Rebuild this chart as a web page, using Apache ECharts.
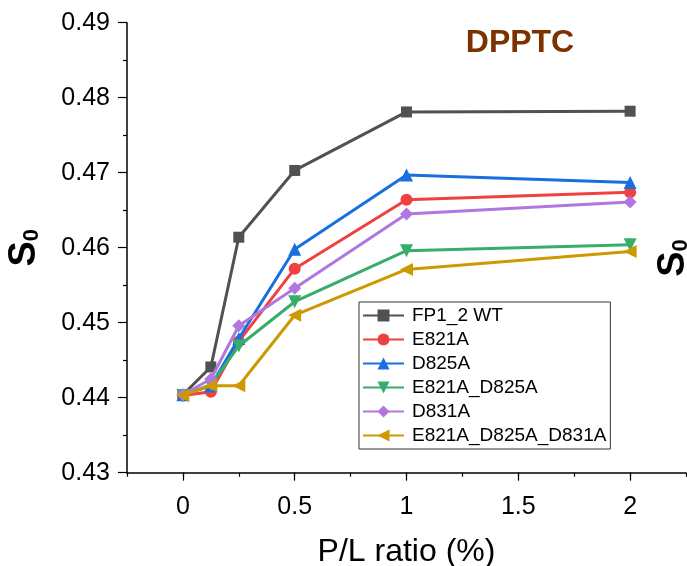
<!DOCTYPE html>
<html>
<head>
<meta charset="utf-8">
<script src="https://cdn.jsdelivr.net/npm/echarts@6/dist/echarts.min.js"></script>
<style>html,body{margin:0;padding:0;background:#fff;}#c{width:687px;height:566px;}</style>
</head>
<body>
<div id="c"></div>
<script>
const xValues = [0, 0.125, 0.25, 0.5, 1, 2];
const seriesNames = ['FP1_2 WT', 'E821A', 'D825A', 'E821A_D825A', 'D831A', 'E821A_D825A_D831A'];
const wt = [0.4404, 0.4441, 0.4614, 0.4703, 0.4781, 0.4782];
const e821a = [0.4403, 0.4408, 0.4475, 0.4572, 0.4664, 0.4674];
const d825a = [0.4404, 0.4416, 0.4479, 0.4598, 0.4697, 0.4687];
const e821aD825a = [0.4403, 0.4417, 0.4469, 0.4528, 0.4596, 0.4604];
const d831a = [0.4404, 0.4425, 0.4496, 0.4546, 0.4645, 0.4661];
const triple = [0.4403, 0.4416, 0.4416, 0.4510, 0.4571, 0.4595];
const xTickCats = ['-0.25', '0', '0.25', '0.5', '0.75', '1', '1.25', '1.5', '1.75', '2', '2.25'];
const yTicks = [0.43, 0.44, 0.45, 0.46, 0.47, 0.48, 0.49];

const colors = ['#515151', '#F14040', '#1A6FDF', '#37AD6B', '#B177DE', '#CC9900'];
const symbols = ['rect', 'circle', 'triangle', 'triangle', 'diamond', 'triangle'];
const rotates = [0, 0, 0, 180, 0, 90];
const sizes = [11, 12, 13, 13, 13, 13];
const allData = [wt, e821a, d825a, e821aD825a, d831a, triple];
const FONT = '"Liberation Sans", Arial, sans-serif';

const chart = echarts.init(document.getElementById('c'));
chart.setOption({
  animation: false,
  backgroundColor: '#fff',
  grid: { left: 127, right: 1, top: 22.7, bottom: 93.3, containLabel: false, outerBoundsMode: 'none' },
  legend: {
    orient: 'vertical', left: 359, top: 302,
    backgroundColor: '#fff',
    borderColor: '#333', borderWidth: 1, borderRadius: 0,
    padding: [4, 4, 4, 3],
    itemWidth: 41, itemHeight: 15, itemGap: 5,
    textStyle: { fontFamily: FONT, fontSize: 19, color: '#000', padding: [0, 0, 0, 3] },
    data: seriesNames
  },
  xAxis: [{
    type: 'value', min: -0.25, max: 2.25, interval: 0.25,
    axisLine: { show: true, onZero: false, lineStyle: { color: '#000', width: 1.5 } },
    axisTick: { show: true, inside: false, length: 4, lineStyle: { color: '#000', width: 1.2 } },
    axisLabel: { show: false },
    splitLine: { show: false },
    name: 'P/L ratio (%)', nameLocation: 'middle', nameGap: 63,
    nameTextStyle: { fontFamily: FONT, fontSize: 32, color: '#000' }
  }, {
    type: 'category', position: 'bottom', boundaryGap: false,
    data: xTickCats,
    axisLine: { show: false, onZero: false },
    axisTick: { show: true, length: 8, interval: function (i) { return i % 2 === 1; }, lineStyle: { color: '#000', width: 1.2 } },
    axisLabel: {
      show: true, margin: 22, interval: function (i) { return i % 2 === 1; },
      fontFamily: FONT, fontSize: 25, color: '#000'
    },
    splitLine: { show: false }
  }],
  yAxis: {
    type: 'value', min: yTicks[0], max: yTicks[yTicks.length - 1], interval: 0.01,
    axisLine: { show: true, onZero: false, lineStyle: { color: '#000', width: 1.5 } },
    axisTick: { show: true, length: 9, lineStyle: { color: '#000', width: 1.2 } },
    minorTick: { show: true, splitNumber: 2, length: 4, lineStyle: { color: '#000', width: 1.2 } },
    axisLabel: {
      margin: 17, fontFamily: FONT, fontSize: 25, color: '#000',
      formatter: function (v) { return v.toFixed(2); }
    },
    splitLine: { show: false },
    name: '{s|S}{sub|0}', nameLocation: 'middle', nameGap: 83,
    nameTextStyle: {
      rich: {
        s: { fontFamily: FONT, fontSize: 38, fontWeight: 'bold', color: '#000' },
        sub: { fontFamily: FONT, fontSize: 22, fontWeight: 'bold', color: '#000', padding: [14, 0, 0, 0] }
      }
    }
  },
  graphic: [{
    type: 'text', x: 520, y: 43,
    style: {
      text: 'DPPTC', align: 'center', verticalAlign: 'middle',
      fontFamily: FONT, fontSize: 32, fontWeight: 'bold', fill: '#7B3100'
    }
  }, {
    type: 'text', x: 674, y: 258, rotation: Math.PI / 2,
    style: {
      text: '{s|S}{sub|0}', align: 'center', verticalAlign: 'middle',
      rich: {
        s: { fontFamily: FONT, fontSize: 38, fontWeight: 'bold', fill: '#000' },
        sub: { fontFamily: FONT, fontSize: 22, fontWeight: 'bold', fill: '#000', padding: [14, 0, 0, 0] }
      }
    }
  }],
  series: seriesNames.map(function (name, k) {
    return {
      name: name, type: 'line', xAxisIndex: 0,
      data: xValues.map(function (x, i) { return [x, allData[k][i]]; }),
      symbol: symbols[k], symbolRotate: rotates[k], symbolSize: sizes[k],
      showAllSymbol: true,
      lineStyle: { color: colors[k], width: 3 },
      itemStyle: { color: colors[k] },
      z: 2 + k
    };
  })
});
</script>
</body>
</html>
